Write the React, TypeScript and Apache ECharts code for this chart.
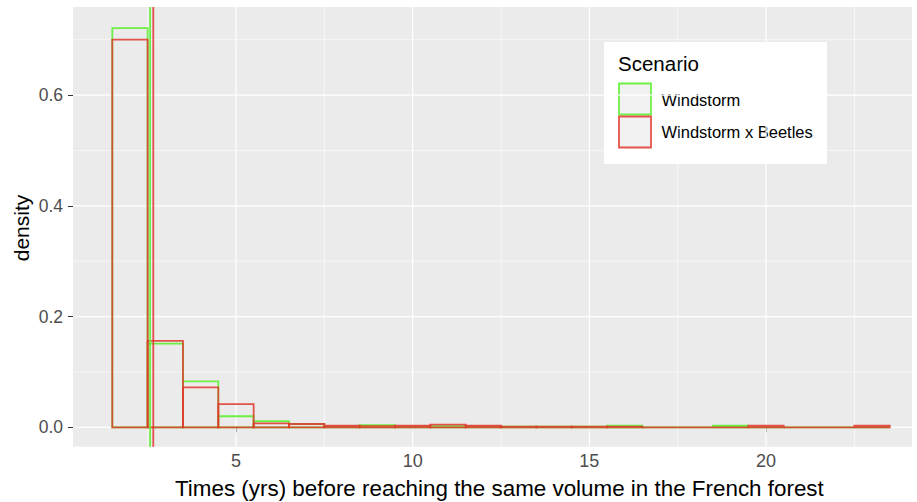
import React, { useEffect, useRef } from "react";
import * as echarts from "echarts";

const binStarts = [1.5, 2.5, 3.5, 4.5, 5.5, 6.5, 7.5, 8.5, 9.5, 10.5, 11.5, 12.5, 13.5, 14.5, 15.5, 16.5, 17.5, 18.5, 19.5, 20.5, 21.5, 22.5];
const binEnds = [2.5, 3.5, 4.5, 5.5, 6.5, 7.5, 8.5, 9.5, 10.5, 11.5, 12.5, 13.5, 14.5, 15.5, 16.5, 17.5, 18.5, 19.5, 20.5, 21.5, 22.5, 23.5];
const windstorm = [0.721, 0.151, 0.083, 0.020, 0.011, 0.006, 0.001, 0.004, 0.001, 0.002, 0.001, 0.001, 0.001, 0.001, 0.003, 0, 0, 0.003, 0, 0, 0, 0];
const windBeetles = [0.700, 0.156, 0.072, 0.042, 0.007, 0.006, 0.003, 0.002, 0.003, 0.005, 0.003, 0.001, 0.001, 0.001, 0.001, 0, 0, 0, 0.003, 0, 0, 0.003];
const means = [2.57, 2.66];
const scenarioNames = ["Windstorm", "Windstorm x Beetles"];
const colors = ["rgba(102,240,60,0.95)", "rgba(225,55,45,0.85)"];

const xMajor = [5, 10, 15, 20];
const xMinor = [2.5, 7.5, 12.5, 17.5, 22.5];
const yMajor = [0, 0.2, 0.4, 0.6];
const yMinor = [0.1, 0.3, 0.5, 0.7];

const X_MIN = 0.388;
const X_MAX = 24.13;
const Y_MIN = -0.035;
const Y_MAX = 0.759;

const FONT = "'Liberation Sans', Arial, sans-serif";

function gridSeries(values: number[], dim: "x" | "y", width: number) {
  return {
    type: "custom",
    silent: true,
    z: 1,
    data: values.map((v) => (dim === "x" ? [v, 0] : [X_MIN, v])),
    encode: { x: 0, y: 1 },
    renderItem: (_p: any, api: any) => {
      const v = dim === "x" ? api.value(0) : api.value(1);
      const a = dim === "x" ? api.coord([v, Y_MIN]) : api.coord([X_MIN, v]);
      const b = dim === "x" ? api.coord([v, Y_MAX]) : api.coord([X_MAX, v]);
      return {
        type: "line",
        shape: { x1: a[0], y1: a[1], x2: b[0], y2: b[1] },
        style: { stroke: "#ffffff", lineWidth: width },
      };
    },
  };
}

function histSeries(name: string, values: number[], color: string, z: number) {
  return {
    type: "custom",
    name,
    z,
    silent: true,
    data: values.map((v, i) => [binStarts[i], binEnds[i], v]),
    encode: { x: [0, 1], y: 2 },
    renderItem: (_p: any, api: any) => {
      const p0 = api.coord([api.value(0), 0]);
      const p1 = api.coord([api.value(1), api.value(2)]);
      return {
        type: "rect",
        shape: { x: p0[0], y: p1[1], width: p1[0] - p0[0], height: p0[1] - p1[1] },
        style: { fill: "none", stroke: color, lineWidth: 1.8 },
      };
    },
  };
}

function meanSeries(value: number, color: string, z: number) {
  return {
    type: "custom",
    z,
    silent: true,
    data: [[value, 0]],
    encode: { x: 0, y: 1 },
    renderItem: (_p: any, api: any) => {
      const a = api.coord([api.value(0), Y_MIN]);
      const b = api.coord([api.value(0), Y_MAX]);
      return {
        type: "line",
        shape: { x1: a[0], y1: a[1], x2: b[0], y2: b[1] },
        style: { stroke: color, lineWidth: 1.8 },
      };
    },
  };
}

export default function App() {
  const ref = useRef<HTMLDivElement>(null);
  useEffect(() => {
    if (!ref.current) return;
    const chart = echarts.init(ref.current, null, { renderer: "svg" });
    const legendX = 604;
    const legendY = 42;
    chart.setOption({
      animation: false,
      backgroundColor: "#ffffff",
      grid: {
        left: 73,
        right: 5,
        top: 7,
        bottom: 55.3,
        show: true,
        backgroundColor: "#EBEBEB",
        borderWidth: 0,
      },
      xAxis: {
        type: "value",
        min: X_MIN,
        max: X_MAX,
        axisLine: { show: false },
        splitLine: { show: false },
        axisTick: { show: true, length: 5, lineStyle: { color: "#333333", width: 1 }, customValues: xMajor },
        axisLabel: { customValues: xMajor, color: "#4D4D4D", fontSize: 18, fontFamily: FONT, margin: 5 },
      },
      yAxis: {
        type: "value",
        min: Y_MIN,
        max: Y_MAX,
        axisLine: { show: false },
        splitLine: { show: false },
        axisTick: { show: true, length: 5, lineStyle: { color: "#333333", width: 1 }, customValues: yMajor },
        axisLabel: {
          customValues: yMajor,
          color: "#4D4D4D",
          fontSize: 17.5,
          fontFamily: FONT,
          margin: 10,
          formatter: (v: number) => v.toFixed(1),
        },
      },
      series: [
        gridSeries(xMinor, "x", 0.6),
        gridSeries(yMinor, "y", 0.6),
        gridSeries(xMajor, "x", 1.2),
        gridSeries(yMajor, "y", 1.2),
        histSeries(scenarioNames[0], windstorm, colors[0], 3),
        histSeries(scenarioNames[1], windBeetles, colors[1], 4),
        meanSeries(means[0], colors[0], 5),
        meanSeries(means[1], colors[1], 6),
      ],
      graphic: [
        {
          type: "text",
          x: 175,
          y: 488,
          style: {
            text: "Times (yrs) before reaching the same volume in the French forest",
            font: `22.4px ${FONT}`,
            fill: "#000000",
            verticalAlign: "middle",
          },
        },
        {
          type: "text",
          x: 21,
          y: 228,
          rotation: Math.PI / 2,
          style: {
            text: "density",
            font: `21px ${FONT}`,
            fill: "#000000",
            align: "center",
            verticalAlign: "middle",
          },
        },
        {
          type: "group",
          x: legendX,
          y: legendY,
          children: [
            { type: "rect", shape: { x: 0, y: 0, width: 223, height: 122 }, style: { fill: "#ffffff" } },
            {
              type: "text",
              x: 14,
              y: 21,
              style: { text: "Scenario", font: `20.5px ${FONT}`, fill: "#000000", verticalAlign: "middle" },
            },
            {
              type: "rect",
              shape: { x: 15, y: 41.5, width: 32, height: 31 },
              style: { fill: "#F2F2F2", stroke: colors[0], lineWidth: 1.8 },
            },
            {
              type: "rect",
              shape: { x: 15, y: 74.5, width: 32, height: 31 },
              style: { fill: "#F2F2F2", stroke: colors[1], lineWidth: 1.8 },
            },
            {
              type: "text",
              x: 57.5,
              y: 57.5,
              style: { text: scenarioNames[0], font: `16.5px ${FONT}`, fill: "#000000", verticalAlign: "middle" },
            },
            {
              type: "text",
              x: 57.5,
              y: 90,
              style: { text: scenarioNames[1], font: `16.5px ${FONT}`, fill: "#000000", verticalAlign: "middle" },
            },
          ],
        },
      ],
    });
    return () => chart.dispose();
  }, []);
  return <div ref={ref} style={{ width: 917, height: 502, position: "absolute", left: 0, top: 0 }} />;
}
